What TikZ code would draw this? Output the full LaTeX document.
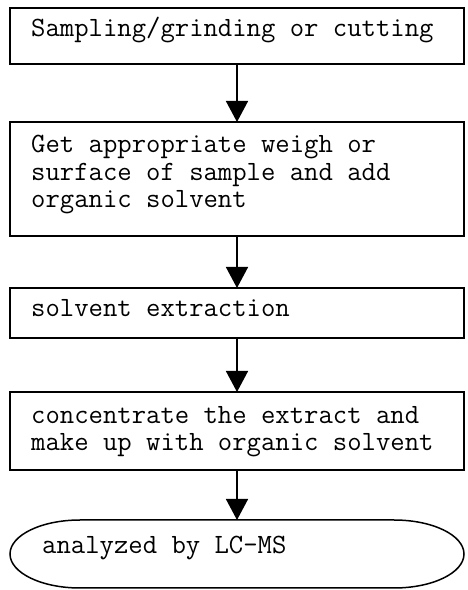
\documentclass[tikz,border=0pt]{standalone}
\usetikzlibrary{arrows.meta}

\begin{document}
\begin{tikzpicture}[x=1pt, y=1pt,
                    stepbox/.style = {draw, line width = 1.5pt, minimum width = 454pt, inner sep = 0pt, outer sep = 0pt},
                    steptext/.style = {anchor = base west, inner sep = 0pt, align = left, font = \ttfamily\fontsize{27.9}{27.5}\selectfont},
                    flowarrow/.style = {line width = 1.5pt, -{Triangle[width = 22pt, length = 21pt]}}]

                    \useasboundingbox (0,0) rectangle (467,590);

                    % The boxes
                    \node[stepbox, minimum height = 56pt] (sampling) at (237,554) {};
                    \node[stepbox, minimum height = 114pt] (weigh) at (237,411) {};
                    \node[stepbox, minimum height = 50pt] (extraction) at (237,277) {};
                    \node[stepbox, minimum height = 78pt] (concentrate) at (237,159) {};
                    \node[minimum width = 454pt, minimum height = 68pt, inner sep = 0pt, outer sep = 0pt] (lcms) at (237,36) {};
                    \draw[line width = 1.5pt] (lcms.north) ++(-157,0) -- ++(314,0)
                        arc[start angle = 90, end angle = -90, x radius = 70, y radius = 34] -- ++(-314,0)
                        arc[start angle = 270, end angle = 90, x radius = 70, y radius = 34] -- cycle;

                    % Adding the texts (base is the last line)
                    \node[steptext] (samplingtxt) at (31,553) {Sampling/grinding or cutting};
                    \node[steptext] (weightxt) at (31,382) {Get appropriate weigh or\\surface of sample and add\\organic solvent};
                    \node[steptext] (extractiontxt) at (31,273) {solvent extraction};
                    \node[steptext] (concentratetxt) at (31,139) {concentrate the extract and\\make up with organic solvent};
                    \node[steptext] (lcmstxt) at (42,37) {analyzed by LC-MS};

                    % Arrows
                    \draw[flowarrow] (sampling) -- (weigh);
                    \draw[flowarrow] (weigh) -- (extraction);
                    \draw[flowarrow] (extraction) -- (concentrate);
                    \draw[flowarrow] (concentrate) -- (lcms);

                \end{tikzpicture}
\end{document}
